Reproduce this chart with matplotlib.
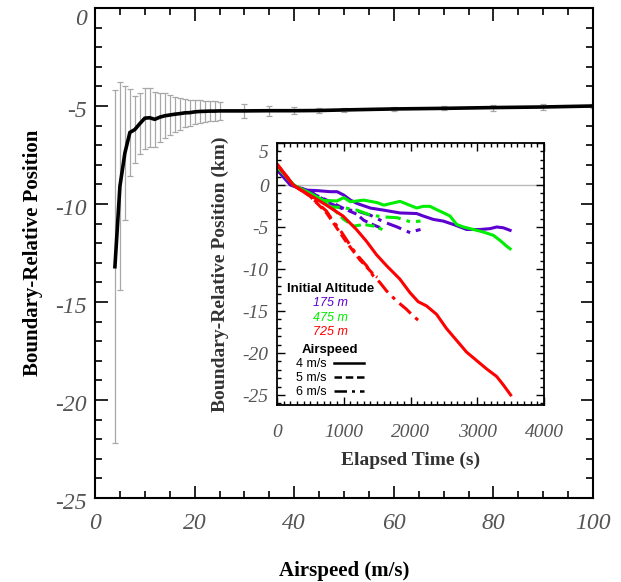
import numpy as np
import matplotlib
matplotlib.use('Agg')
import matplotlib.pyplot as plt
import matplotlib.transforms as mtrans
from matplotlib.ticker import MultipleLocator

plt.rcParams['axes.unicode_minus'] = False

# main panel: mean boundary-relative position vs airspeed
speed = [4, 5, 6, 7, 8, 9, 10, 11, 12, 13, 14, 15, 16, 17, 18, 19, 20, 21, 22, 23, 24, 25,
         30, 35, 40, 45, 50, 60, 70, 80, 90, 100]
pos_mean = [-13.2, -9.1, -7.4, -6.35, -6.2, -5.9, -5.62, -5.6, -5.68, -5.57, -5.5, -5.46,
            -5.42, -5.39, -5.35, -5.34, -5.3, -5.28, -5.27, -5.26, -5.26, -5.25,
            -5.25, -5.24, -5.24, -5.23, -5.2, -5.15, -5.12, -5.08, -5.05, -5.0]
pos_err = [9.0, 5.3, 3.4, 2.2, 1.7, 1.56, 1.55, 1.5, 1.4, 1.25, 1.15, 1.0, 0.9, 0.82, 0.72,
           0.66, 0.62, 0.57, 0.55, 0.52, 0.5, 0.45, 0.35, 0.25, 0.17, 0.13, 0.1, 0.12,
           0.1, 0.15, 0.15, 0.1]

# inset: trajectories, altitude colour x airspeed linestyle
t_175_4 = [0, 200, 400, 600, 800, 900, 1000, 1100, 1200, 1400, 1600, 1843, 2092, 2192, 2342,
           2492, 2642, 2742, 2842, 3042, 3192, 3292, 3392, 3492]
y_175_4 = [1.8, 0.0, -0.6, -0.67, -0.8, -0.8, -1.2, -1.8, -2.2, -2.75, -3.0, -3.33, -3.4, -3.7,
           -4.1, -4.3, -4.7, -5.0, -5.3, -5.3, -5.2, -5.0, -5.1, -5.4]
t_175_5 = [0, 250, 500, 800, 1000, 1200, 1300, 1400, 1550]
y_175_5 = [1.8, 0.0, -0.9, -2.0, -2.8, -3.5, -4.2, -4.6, -5.1]
t_175_6 = [0, 250, 500, 800, 1000, 1200, 1400, 1600, 1800, 2000, 2050, 2150]
y_175_6 = [1.9, 0.0, -0.8, -2.2, -2.9, -3.1, -3.6, -4.4, -5.0, -5.7, -5.5, -5.3]

t_475_4 = [0, 250, 500, 700, 900, 1000, 1100, 1300, 1500, 1600, 1843, 2092, 2192, 2292, 2392,
           2492, 2592, 2692, 2792, 2942, 3092, 3242, 3342, 3442, 3492]
y_475_4 = [2.2, 0.0, -1.0, -1.85, -1.9, -1.5, -2.0, -1.8, -2.1, -2.4, -1.95, -2.74, -2.54,
           -2.54, -2.94, -3.3, -3.7, -4.7, -5.0, -5.3, -5.6, -6.0, -6.6, -7.3, -7.6]
t_475_5 = [0, 250, 600, 800, 1000, 1150, 1300, 1450, 1580]
y_475_5 = [2.2, 0.0, -1.5, -2.5, -4.1, -4.9, -4.7, -4.9, -5.3]
t_475_6 = [0, 250, 600, 800, 1000, 1200, 1400, 1600, 1800, 1890, 2000, 2150]
y_475_6 = [2.3, 0.0, -1.6, -2.6, -2.7, -3.0, -3.6, -3.8, -3.9, -4.1, -4.4, -4.3]

t_725_4 = [0, 150, 240, 490, 740, 990, 1190, 1340, 1490, 1640, 1840, 1990, 2115, 2240, 2390,
           2540, 2690, 2840, 2990, 3140, 3290, 3390, 3500]
y_725_4 = [2.4, 1.0, 0.0, -1.2, -2.4, -3.7, -5.3, -6.7, -8.3, -9.6, -11.2, -12.8, -13.9, -14.4,
           -15.4, -17.1, -18.5, -19.9, -20.9, -21.9, -22.8, -23.8, -25.0]
t_725_5 = [0, 240, 490, 740, 1040, 1240, 1440, 1500]
y_725_5 = [2.5, 0.0, -1.3, -3.3, -6.8, -8.9, -10.6, -11.0]
t_725_6 = [0, 240, 490, 640, 740, 840, 940, 1040, 1140, 1240, 1340, 1440, 1540, 1640, 1790,
           1940, 2040, 2115]
y_725_6 = [2.5, 0.0, -1.3, -2.4, -3.1, -4.3, -5.3, -6.5, -7.7, -8.7, -9.6, -10.8, -11.6, -12.6,
           -13.8, -14.8, -15.6, -16.1]

alt_labels = ['175 m', '475 m', '725 m']
alt_colors = ['#5c00d0', '#00ee00', '#ff0000']
spd_labels = ['4 m/s', '5 m/s', '6 m/s']
spd_styles = ['-', (0, (3, 1.5)), (0, (5, 2, 1.2, 2))]

tick_color = '#555555'


def style_ticklabels(a, size):
    for lab in a.get_xticklabels() + a.get_yticklabels():
        lab.set_fontfamily('Liberation Serif')
        lab.set_fontstyle('italic')
        lab.set_fontsize(size)
        lab.set_color(tick_color)


def nudge_ylabels(a, px_all, px_top):
    # y labels sit slightly below their ticks, the top one pushed inside the frame
    ymax = a.get_ylim()[1]
    for tick in a.yaxis.get_major_ticks():
        lab = tick.label1
        shift = px_top if abs(tick.get_loc() - ymax) < 1e-9 else px_all
        lab.set_transform(lab.get_transform() +
                          mtrans.ScaledTranslation(0, -shift / 100, a.figure.dpi_scale_trans))


fig = plt.figure(figsize=(6.21, 5.82), dpi=100)
ax = fig.add_axes([95/621, 1 - 498/582, 498/621, 490/582])

ax.errorbar(speed, pos_mean, yerr=pos_err, fmt='none', ecolor='#a8a8a8',
            elinewidth=0.9, capsize=2.5, capthick=0.9, zorder=2)
ax.plot(speed, pos_mean, color='black', lw=2.6, zorder=3)

ax.set_xlim(0, 100)
ax.set_ylim(-25, 0)
ax.xaxis.set_major_locator(MultipleLocator(20))
ax.xaxis.set_minor_locator(MultipleLocator(5))
ax.yaxis.set_major_locator(MultipleLocator(5))
ax.yaxis.set_minor_locator(MultipleLocator(1))
ax.tick_params(which='both', direction='in', top=True, right=True, width=1.2)
ax.tick_params(which='major', length=9)
ax.tick_params(which='minor', length=5)
ax.tick_params(axis='x', pad=11)
ax.tick_params(axis='y', pad=6)
style_ticklabels(ax, 17)
for s in ax.spines.values():
    s.set_linewidth(1.5)
ax.set_xlabel('Airspeed (m/s)', fontfamily='Liberation Serif', fontweight='bold', fontsize=15)
ax.set_ylabel('Boundary-Relative Position', fontfamily='Liberation Serif', fontweight='bold',
              fontsize=15)
ax.xaxis.set_label_coords(0.5, -0.128)
ax.yaxis.set_label_coords(-0.105, 0.5)

# inset
ins = fig.add_axes([277/621, 1 - 405/582, 267/621, 262/582])
ins.axhline(0, color='#bbbbbb', lw=1, zorder=1)
curves = [(t_175_4, y_175_4, 0, 0), (t_175_5, y_175_5, 0, 1), (t_175_6, y_175_6, 0, 2),
          (t_475_4, y_475_4, 1, 0), (t_475_5, y_475_5, 1, 1), (t_475_6, y_475_6, 1, 2),
          (t_725_4, y_725_4, 2, 0), (t_725_5, y_725_5, 2, 1), (t_725_6, y_725_6, 2, 2)]
for t, y, a, s in curves:
    ins.plot(t, y, color=alt_colors[a], ls=spd_styles[s], lw=2.2, zorder=2)

ins.set_xlim(0, 4000)
ins.set_ylim(-26.2, 5)
ins.xaxis.set_major_locator(MultipleLocator(1000))
ins.xaxis.set_minor_locator(MultipleLocator(100))
ins.yaxis.set_major_locator(MultipleLocator(5))
ins.yaxis.set_minor_locator(MultipleLocator(1))
ins.tick_params(which='both', direction='in', top=True, right=True, width=1.0)
ins.tick_params(which='major', length=6)
ins.tick_params(which='minor', length=3)
ins.tick_params(axis='x', pad=14)
ins.tick_params(axis='y', pad=6)
style_ticklabels(ins, 14)
for s in ins.spines.values():
    s.set_linewidth(1.3)
ins.set_xlabel('Elapsed Time (s)', fontfamily='Liberation Serif', fontweight='bold',
               fontsize=14, color='#333333')
ins.set_ylabel('Boundary-Relative Position (km)', fontfamily='Liberation Serif',
               fontweight='bold', fontsize=14, color='#333333')
ins.xaxis.set_label_coords(0.5, -0.18)
ins.yaxis.set_label_coords(-0.18, 0.5)

# legends
alt_handles = [plt.Line2D([], [], color=c, lw=0) for c in alt_colors]
leg1 = ins.legend(alt_handles, alt_labels, loc='upper center', bbox_to_anchor=(0.2, 0.49),
                  frameon=False, handlelength=0, handletextpad=0, labelspacing=0.2,
                  labelcolor=alt_colors, borderpad=0,
                  prop={'family': 'Liberation Sans', 'style': 'italic', 'size': 9},
                  title='Initial Altitude',
                  title_fontproperties={'family': 'Liberation Sans', 'weight': 'bold',
                                        'size': 9.5})
ins.add_artist(leg1)
spd_handles = [plt.Line2D([], [], color='black', ls=st, lw=1.8) for st in spd_styles]
ins.legend(spd_handles, spd_labels, loc='upper center', bbox_to_anchor=(0.2, 0.255),
           frameon=False, handlelength=2.4, handletextpad=0.6, labelspacing=0.15,
           markerfirst=False, borderpad=0,
           prop={'family': 'Liberation Sans', 'size': 9},
           title='Airspeed',
           title_fontproperties={'family': 'Liberation Sans', 'weight': 'bold', 'size': 9.5})

fig.canvas.draw()
nudge_ylabels(ax, 3, 9)
nudge_ylabels(ins, 1, 9)
fig.savefig('out.png', dpi=100)
